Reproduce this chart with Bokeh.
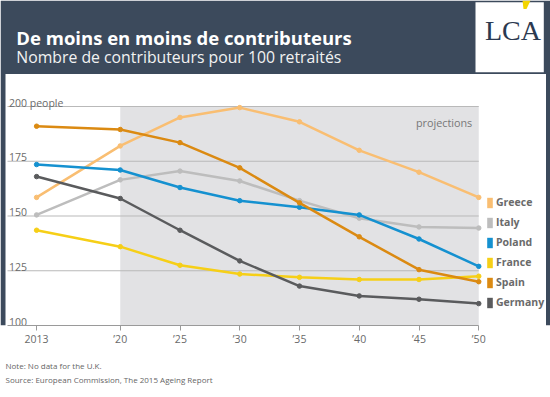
from bokeh.plotting import figure
from bokeh.models import Range1d, FixedTicker, Legend, LegendItem, Title
from bokeh.core.properties import value
from bokeh.embed import file_html
from bokeh.resources import INLINE

# ---------------- data ----------------
YEARS = [2013, 2020, 2025, 2030, 2035, 2040, 2045, 2050]
GREECE = [158.5, 182, 195, 199.5, 193, 180, 170, 158.5]
ITALY = [150.5, 166.5, 170.5, 166, 157, 149, 145, 144.5]
POLAND = [173.5, 171, 163, 157, 154, 150.5, 139.5, 127]
FRANCE = [143.5, 136, 127.5, 123.5, 122, 121, 121, 122.5]
SPAIN = [191, 189.5, 183.5, 172, 156, 140.5, 125.5, 120]
GERMANY = [168, 158, 143.5, 129.5, 118, 113.5, 112, 110]

SERIES = ["Greece", "Italy", "Poland", "France", "Spain", "Germany"]
VALUES = [GREECE, ITALY, POLAND, FRANCE, SPAIN, GERMANY]
COLORS = ["#f9be72", "#bdbdbd", "#1591d0", "#f6cf17", "#db8a12", "#5a5b5d"]

X_TICKS = YEARS
X_LABELS = ["2013", "\u201920", "\u201925", "\u201930", "\u201935", "\u201940", "\u201945", "\u201950"]
Y_TICKS = [100, 125, 150, 175, 200]
Y_LABELS = ["100", "125", "150", "175", "200 people"]
GRID_TICKS = [125, 150, 175, 200]
PROJ_START, PROJ_END = 2020, 2050
Y_BASE, Y_TOP = 100, 200

TITLE = "De moins en moins de contributeurs"
SUBTITLE = "Nombre de contributeurs pour 100 retrait\u00e9s"
NOTE = "Note: No data for the U.K."
SOURCE = "Source: European Commission, The 2015 Ageing Report"

DARK = "#3c4a5c"
FONT = "Open Sans"
TXT = "#6a6a6a"

# ---------------- layout helpers (canvas pixels -> data) ----------------
W, H = 550, 397
AXIS_PX = 325          # canvas y of the value 100
PX_YEAR = 11.95        # pixels per year
PX_UNIT = 2.19         # pixels per value unit
X2013_PX = 36.1        # canvas x of 2013
HEAD_PX = 73.5         # bottom of the dark header


def dx(px):
    return YEARS[0] + (px - X2013_PX) / PX_YEAR


def dy(py):
    return Y_BASE + (AXIS_PX - py) / PX_UNIT


X_LEFT = dx(7)         # left end of grid lines / axis

p = figure(width=W, height=H,
           x_range=Range1d(dx(0), dx(W)), y_range=Range1d(Y_BASE, dy(0)),
           toolbar_location=None, output_backend="svg", y_axis_location=None,
           min_border_left=0, min_border_right=0, min_border_top=0,
           min_border_bottom=H - AXIS_PX,
           background_fill_color="white", border_fill_color="white",
           outline_line_color=None)
p.grid.visible = False

# header band, side edges and logo
p.quad(left=[dx(0)], right=[dx(W)], top=[dy(0)], bottom=[dy(HEAD_PX)], fill_color=DARK, line_color=None)
p.quad(left=[dx(0), dx(545.5)], right=[dx(5), dx(W)], top=[dy(HEAD_PX)] * 2, bottom=[Y_BASE] * 2,
       fill_color=DARK, line_color=None)
p.text(x=[dx(15.8)], y=[dy(36.8)], text=[TITLE], text_font=value(FONT), text_font_style="bold",
       text_font_size="18.5px", text_color="white", text_baseline="alphabetic")
p.text(x=[dx(15.8)], y=[dy(56)], text=[SUBTITLE], text_font=value(FONT),
       text_font_size="15.8px", text_color="#f2f2f2", text_baseline="alphabetic")
p.quad(left=[dx(475)], right=[dx(543.3)], top=[dy(1.7)], bottom=[dy(71.7)], fill_color="white", line_color=None)
p.text(x=[dx(512.5)], y=[dy(30)], text=["LCA"], text_font=value("Liberation Serif"),
       text_font_size="28px", text_color="#2b3950", text_align="center",
       text_baseline="alphabetic")
p.patch(x=[dx(522), dx(530), dx(526), dx(523)], y=[dy(0), dy(0), dy(8.5), dy(8.5)],
        fill_color="#f3d500", line_color=None)

# projection band and grid lines
p.quad(left=[PROJ_START], right=[PROJ_END], bottom=[Y_BASE], top=[Y_TOP],
       fill_color="#e2e2e4", line_color=None)
p.segment(x0=[X_LEFT] * len(GRID_TICKS), x1=[PROJ_END] * len(GRID_TICKS),
          y0=GRID_TICKS, y1=GRID_TICKS, line_color="#b9b9b9", line_width=1)

ax = p.xaxis[0]
ax.bounds = (X_LEFT, PROJ_END)
ax.ticker = FixedTicker(ticks=X_TICKS)
ax.major_label_overrides = {t: l for t, l in zip(X_TICKS, X_LABELS)}
ax.axis_line_color = "#9a9a9a"
ax.major_tick_line_color = "#9a9a9a"
ax.major_tick_out = 5
ax.major_tick_in = 0
ax.minor_tick_line_color = None
ax.major_label_standoff = 1
ax.major_label_text_font = FONT
ax.major_label_text_font_size = "10.5px"
ax.major_label_text_color = TXT

# y labels inside plot
p.text(x=[dx(8.5)] * len(Y_TICKS), y=Y_TICKS, text=Y_LABELS, text_font=value(FONT),
       text_font_size="10.5px", text_color=TXT, text_baseline="alphabetic",
       y_offset=-4)
p.text(x=[PROJ_END], y=[Y_TOP], text=["projections"], text_font=value(FONT),
       text_font_size="10.8px", text_color="#777777", text_align="right",
       text_baseline="middle", x_offset=-6.5, y_offset=16)

items = []
for name, vals, col in zip(SERIES, VALUES, COLORS):
    p.line(YEARS, vals, line_color=col, line_width=2.5)
    p.scatter(YEARS, vals, fill_color=col, line_color=col, size=4.5)
    # zero-size swatch renderer, only used for the legend square
    sw = p.quad(left=[YEARS[0]], right=[YEARS[0]], top=[Y_BASE], bottom=[Y_BASE],
                fill_color=col, line_color=None)
    items.append(LegendItem(label=name, renderers=[sw]))

legend = Legend(items=items, location=(486, 16), margin=0, padding=0, spacing=6,
                glyph_width=7, glyph_height=13, label_height=13, label_standoff=3,
                label_text_font=FONT, label_text_font_style="bold",
                label_text_font_size="10.5px", label_text_color=TXT,
                border_line_color=None, background_fill_alpha=0)
p.add_layout(legend)

notes = Title(text=NOTE + "\n" + SOURCE, align="left", offset=5, standoff=18,
              text_font=FONT, text_font_size="8px", text_font_style="normal",
              text_color="#666666", text_line_height=1.35)
p.add_layout(notes, "below")

open("out.html", "w").write(file_html(p, INLINE))
